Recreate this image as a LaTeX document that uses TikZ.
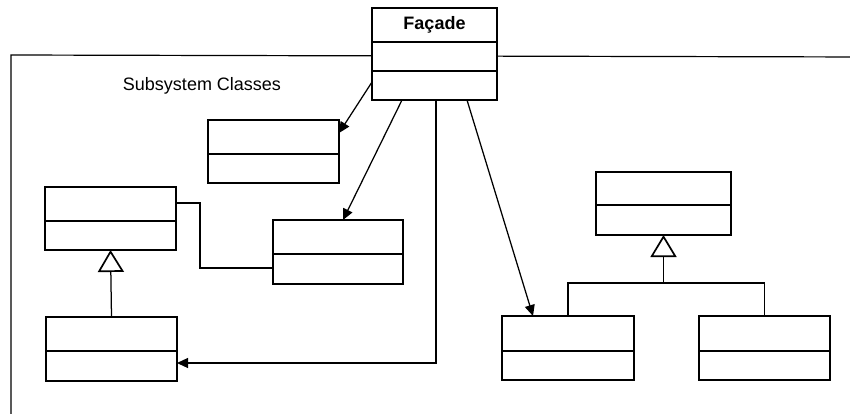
\documentclass[tikz,border=0pt]{standalone}
\usepackage{fontspec}
\setmainfont{Liberation Sans}
\usetikzlibrary{arrows.meta,calc}

% class box: name, left, top, right, bottom, y of the compartment line
\newcommand\classbox[6]{%
  \node[cls, minimum width={#4-#2}, minimum height={#5-#3}] (#1) at ({(#2+#4)/2},{(#3+#5)/2}) {};
  \draw[divider] (#2,#6) -- (#4,#6);
}

\begin{document}
\begin{tikzpicture}[x=1pt,y=-1pt,
  cls/.style={draw, rectangle, line width=2pt, fill=white, inner sep=0pt, outer sep=0pt},
  divider/.style={line width=1.6pt},
  conn/.style={line width=1.25pt},
  assoc/.style={conn, -{Triangle[length=11pt,width=10pt]}},
  inherit/.style={conn, -{Triangle[open,length=22pt,width=26pt,line width=1.7pt,fill=white]}},
  frameline/.style={line width=1.2pt},
  title/.style={font=\fontsize{18}{20}\selectfont},
]
\fill[white] (0,0) rectangle (850,413);
\useasboundingbox (0,0) rectangle (850,413);

% package frame, open to the right and bottom
\begin{scope}
  \clip (0,0) rectangle (850,413);
  \draw[frameline] (11,440) -- (11,55) -- (870,57);
\end{scope}

\node[title, anchor=center] (pkg) at (202,86) {Subsystem Classes};

% facade class
\node[cls, minimum width=125, minimum height=92] (fac) at (434.5,54) {};
\draw[divider] (372,42) -- (497,42);
\draw[divider] (372,71) -- (497,71);
\node[title, font=\fontsize{18}{20}\selectfont\bfseries] (factitle) at (434.5,25) {Façade};

% subsystem classes
\classbox{A}{208}{120}{339}{183}{154}
\classbox{B}{45}{187}{176}{250}{221}
\classbox{C}{273}{220}{403}{284}{254}
\classbox{D}{46}{317}{177}{381}{351}
\classbox{E}{502}{316}{634}{380}{351}
\classbox{F}{699}{316}{830}{380}{351}
\classbox{G}{596}{172}{731}{235}{205}

% facade associations
\draw[assoc] ([yshift=18pt]fac.south west) -- ([yshift=18.5pt]A.east);
\draw[assoc] ([xshift=30pt]fac.south west) -- ([xshift=5pt]C.north);
\draw[assoc] ([xshift=1.5pt]fac.south) |- ([yshift=-14pt]D.east);
\draw[assoc] ([xshift=-30pt]fac.south east) -- ([xshift=-35pt]E.north);

% association between B and C
\draw[conn] ([yshift=15.5pt]B.east) -- ++(24,0) |- ([yshift=-16pt]C.west);

% generalisations
\draw[inherit] (D.north) -- (B.south);
\coordinate (gj) at (663.5,283);
\draw[conn] (E.north) |- (gj) -| (F.north);
\draw[inherit] (gj) -- (G.south);
\end{tikzpicture}
\end{document}
